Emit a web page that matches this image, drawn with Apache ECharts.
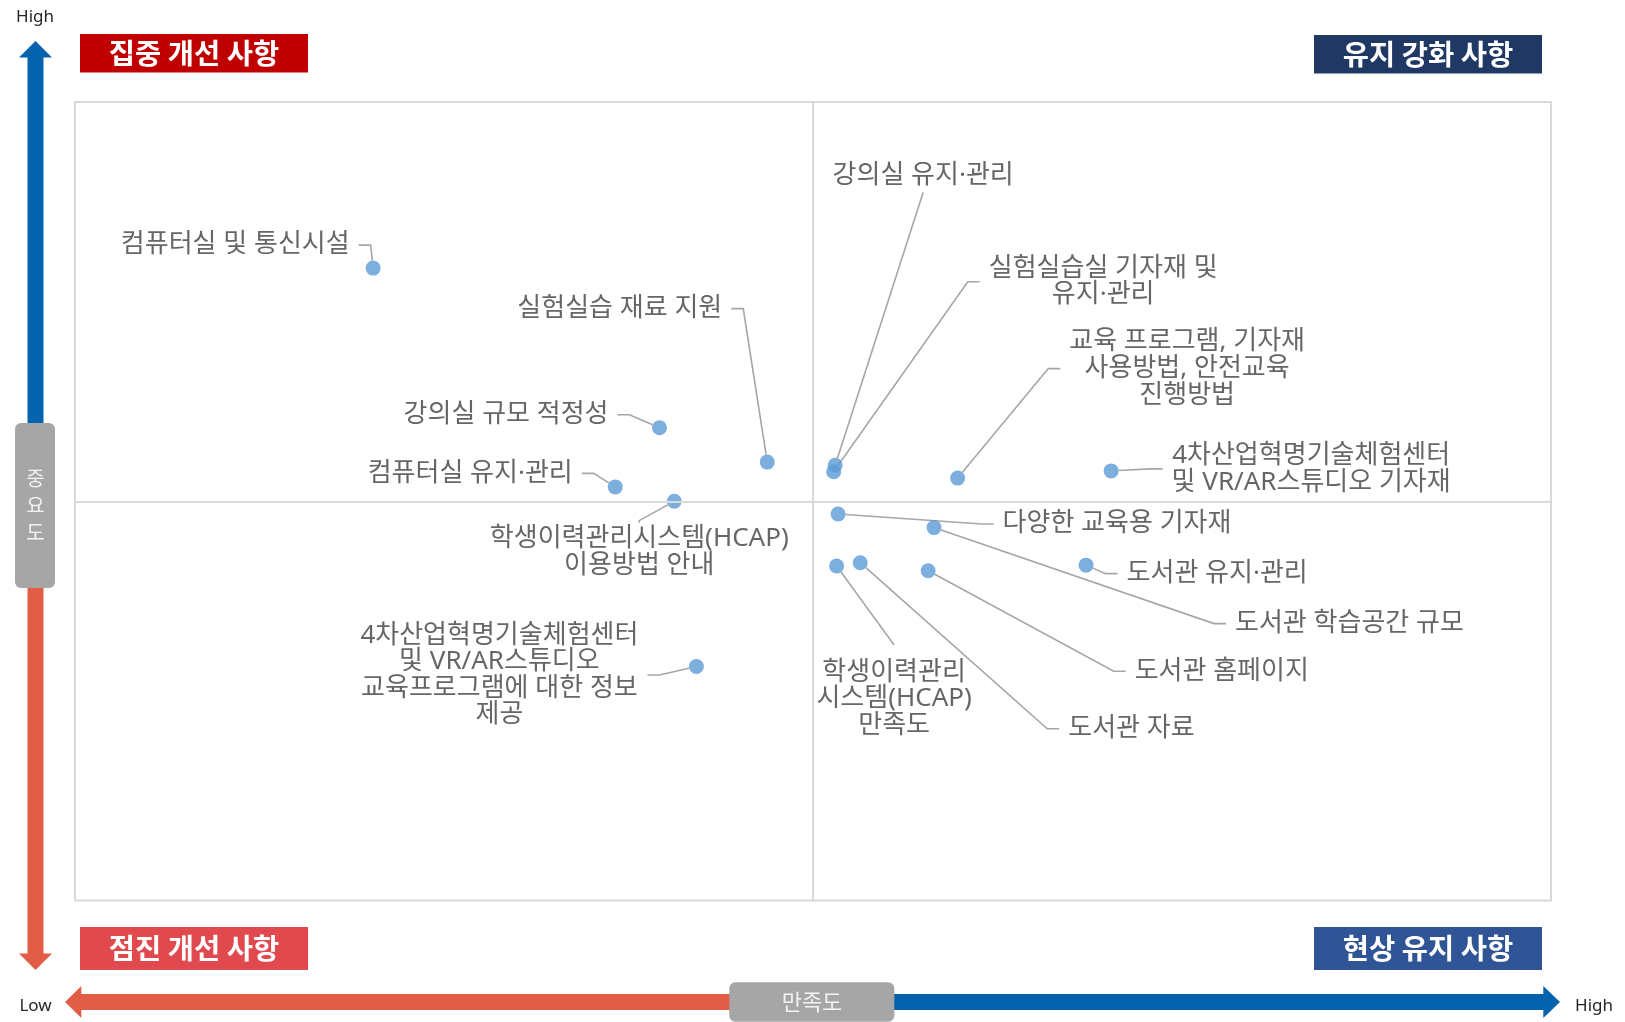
<!DOCTYPE html>
<html>
<head>
<meta charset="utf-8">
<script src="https://cdn.jsdelivr.net/npm/echarts@6/dist/echarts.min.js"></script>
<style>
  html, body { margin: 0; padding: 0; background: #ffffff; }
  #chart { width: 1625px; height: 1022px; }
</style>
</head>
<body>
<div id="chart"></div>
<script>
// ---------------- data ----------------
const items = [
  '컴퓨터실 및 통신시설',
  '실험실습 재료 지원',
  '강의실 규모 적정성',
  '컴퓨터실 유지·관리',
  '학생이력관리시스템(HCAP)\n이용방법 안내',
  '4차산업혁명기술체험센터\n및 VR/AR스튜디오\n교육프로그램에 대한 정보\n제공',
  '강의실 유지·관리',
  '실험실습실 기자재 및\n유지·관리',
  '교육 프로그램, 기자재\n사용방법, 안전교육\n진행방법',
  '4차산업혁명기술체험센터\n및 VR/AR스튜디오 기자재',
  '다양한 교육용 기자재',
  '도서관 학습공간 규모',
  '도서관 유지·관리',
  '학생이력관리\n시스템(HCAP)\n만족도',
  '도서관 자료',
  '도서관 홈페이지'
];
const satisfaction = [3.402, 3.669, 3.596, 3.566, 3.606, 3.621, 3.715, 3.714, 3.798, 3.902, 3.717, 3.782, 3.885, 3.716, 3.732, 3.778];
const importance   = [4.392, 4.149, 4.192, 4.118, 4.100, 3.893, 4.145, 4.137, 4.129, 4.138, 4.084, 4.067, 4.020, 4.019, 4.023, 4.013];
const satisfactionMean = 3.70;
const importanceMean = 4.10;
const satisfactionRange = [3.2, 4.2];
const importanceRange = [3.6, 4.6];
const quadrantTitles = ['집중 개선 사항', '유지 강화 사항', '점진 개선 사항', '현상 유지 사항'];
const xAxisName = '만족도';
const yAxisName = '중요도';

// ---------------- label placement (layout only) ----------------
const labelPlacement = [
  { dx: -14.5, dy: -23,    align: 'right'  },
  { dx: -36,   dy: -153.5, align: 'right'  },
  { dx: -42,   dy: -13,    align: 'right'  },
  { dx: -33.5, dy: -13.5,  align: 'right'  },
  { dx: -35,   dy: 51,     align: 'center', pad: [3, 9],  len2: 2 },
  { dx: -197,  dy: 8.5,    align: 'center' },
  { dx: 88,    dy: -290,   align: 'center', pad: [4, 9],  len2: 0 },
  { dx: 269.5, dy: -190,   align: 'center' },
  { dx: 229.5, dy: -109.5, align: 'center' },
  { dx: 200,   dy: -2,     align: 'center' },
  { dx: 155.5, dy: 10,     align: 'left'   },
  { dx: 292,   dy: 96,     align: 'left'   },
  { dx: 31.5,  dy: 8.5,    align: 'left'   },
  { dx: 57.5,  dy: 133,    align: 'center', pad: [14, 9], len2: 0 },
  { dx: 199,   dy: 166,    align: 'left'   },
  { dx: 197.5, dy: 100.5,  align: 'left'   }
];

const seriesData = items.map(function (name, i) {
  const pl = labelPlacement[i];
  const d = { name: name, value: [satisfaction[i], importance[i]] };
  if (pl.pad) d.label = { padding: pl.pad };
  if (pl.len2 != null) d.labelLine = { length2: pl.len2 };
  return d;
});

const KR = '"Noto Sans CJK KR", "Noto Sans CJK SC", sans-serif';
const MIX = '"Noto Sans", "Noto Sans CJK KR", sans-serif';
const RED = '#E25D46';
const BLUE = '#0563AE';

const chart = echarts.init(document.getElementById('chart'), null, { renderer: 'canvas' });

const option = {
  animation: false,
  backgroundColor: '#ffffff',
  grid: {
    left: 75, top: 102, width: 1476, height: 798.5,
    show: true, borderColor: '#D9D9D9', borderWidth: 2, backgroundColor: 'transparent'
  },
  xAxis: {
    type: 'value', min: satisfactionRange[0], max: satisfactionRange[1],
    show: false, splitLine: { show: false }
  },
  yAxis: {
    type: 'value', min: importanceRange[0], max: importanceRange[1],
    show: false, splitLine: { show: false }
  },
  series: [
    {
      type: 'scatter',
      z: 1,
      data: [],
      silent: true,
      markLine: {
        silent: true,
        symbol: 'none',
        label: { show: false },
        lineStyle: { color: '#D9D9D9', width: 2, type: 'solid' },
        data: [
          { xAxis: satisfactionMean },
          { yAxis: importanceMean }
        ]
      }
    },
    {
      type: 'scatter',
      z: 3,
      symbol: 'circle',
      symbolSize: 15,
      itemStyle: { color: '#5B9BD5' },
      data: seriesData,
      label: {
        show: true,
        formatter: '{b}',
        color: '#404040',
        fontFamily: MIX,
        fontSize: 26,
        lineHeight: 26.6,
        padding: [0, 9],
        backgroundColor: 'rgba(255,255,255,0)'
      },
      labelLine: {
        show: true,
        length2: 12,
        lineStyle: { color: '#A6A6A6', width: 1.6 }
      },
      labelLayout: function (p) {
        const pl = labelPlacement[p.dataIndex];
        const cx = p.rect.x + p.rect.width / 2;
        const cy = p.rect.y + p.rect.height / 2;
        return { x: cx + pl.dx, y: cy + pl.dy, align: pl.align, verticalAlign: 'middle' };
      }
    }
  ],
  graphic: {
    elements: [
      // quadrant title boxes
      { type: 'rect', shape: { x: 80, y: 34, width: 228, height: 38.5 }, style: { fill: '#C00000' } },
      { type: 'text', x: 194, y: 53.5, style: { text: quadrantTitles[0], fill: '#ffffff', font: 'bold 28.5px ' + KR, align: 'center', verticalAlign: 'middle' } },
      { type: 'rect', shape: { x: 1314, y: 35, width: 228, height: 38.5 }, style: { fill: '#203864' } },
      { type: 'text', x: 1428, y: 54.5, style: { text: quadrantTitles[1], fill: '#ffffff', font: 'bold 28.5px ' + KR, align: 'center', verticalAlign: 'middle' } },
      { type: 'rect', shape: { x: 80, y: 927, width: 228, height: 43 }, style: { fill: '#E0494D' } },
      { type: 'text', x: 194, y: 948.5, style: { text: quadrantTitles[2], fill: '#ffffff', font: 'bold 28.5px ' + KR, align: 'center', verticalAlign: 'middle' } },
      { type: 'rect', shape: { x: 1314, y: 927, width: 228, height: 43 }, style: { fill: '#2F5597' } },
      { type: 'text', x: 1428, y: 948.5, style: { text: quadrantTitles[3], fill: '#ffffff', font: 'bold 28.5px ' + KR, align: 'center', verticalAlign: 'middle' } },

      // vertical arrow (importance)
      { type: 'polygon', shape: { points: [[35.5, 41], [52, 57.5], [43.5, 57.5], [43.5, 430], [27.5, 430], [27.5, 57.5], [19, 57.5]] }, style: { fill: BLUE } },
      { type: 'polygon', shape: { points: [[27.5, 580], [43.5, 580], [43.5, 953.5], [52, 953.5], [35.5, 970], [19, 953.5], [27.5, 953.5]] }, style: { fill: RED } },
      { type: 'rect', shape: { x: 15, y: 423, width: 40, height: 165, r: 6 }, style: { fill: '#A6A6A6' } },
      { type: 'text', x: 35.5, y: 505, style: { text: yAxisName.split('').join('\n'), fill: '#F2F2F2', font: '20px ' + KR, lineHeight: 27, align: 'center', verticalAlign: 'middle' } },

      // horizontal arrow (satisfaction)
      { type: 'polygon', shape: { points: [[65, 1002], [81.3, 986], [81.3, 994], [740, 994], [740, 1010], [81.3, 1010], [81.3, 1018]] }, style: { fill: RED } },
      { type: 'polygon', shape: { points: [[880, 994], [1543.3, 994], [1543.3, 986], [1560, 1002], [1543.3, 1018], [1543.3, 1010], [880, 1010]] }, style: { fill: BLUE } },
      { type: 'rect', shape: { x: 729.3, y: 982.3, width: 165, height: 39.5, r: 6 }, style: { fill: '#A6A6A6' } },
      { type: 'text', x: 812, y: 1002, style: { text: xAxisName, fill: '#F2F2F2', font: '22px ' + KR, align: 'center', verticalAlign: 'middle' } },

      // High / Low
      { type: 'text', x: 35, y: 17, style: { text: 'High', fill: '#262626', font: '17px "Noto Sans", sans-serif', align: 'center', verticalAlign: 'middle' } },
      { type: 'text', x: 35.5, y: 1006, style: { text: 'Low', fill: '#262626', font: '17px "Noto Sans", sans-serif', align: 'center', verticalAlign: 'middle' } },
      { type: 'text', x: 1594, y: 1006.5, style: { text: 'High', fill: '#262626', font: '17px "Noto Sans", sans-serif', align: 'center', verticalAlign: 'middle' } }
    ]
  }
};

chart.setOption(option);
</script>
</body>
</html>
